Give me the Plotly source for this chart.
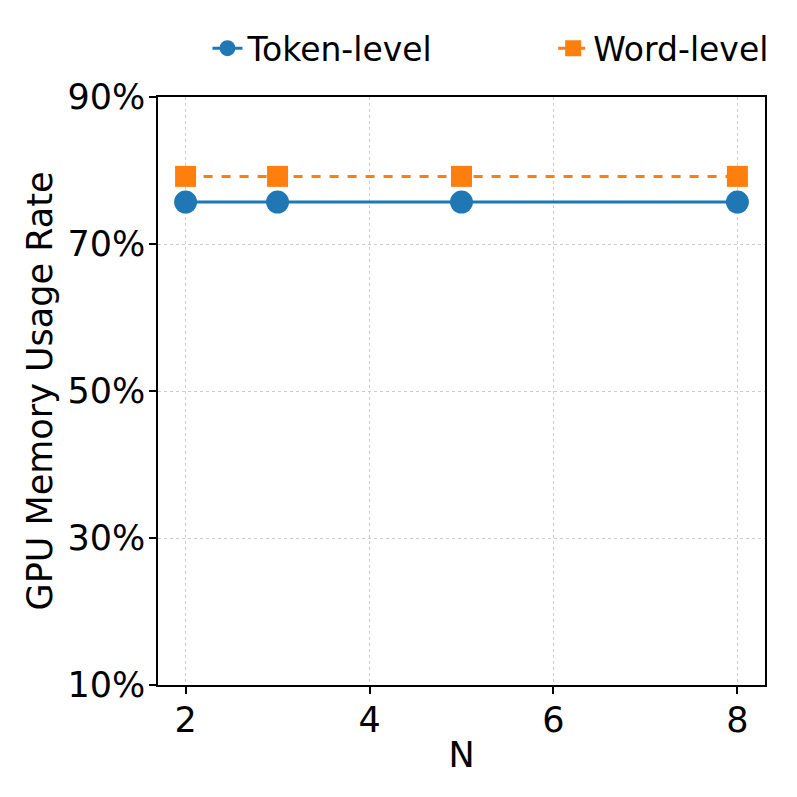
import plotly.graph_objects as go

# data
n_values = [2, 3, 5, 8]
token_level = [75.7, 75.7, 75.7, 75.7]
word_level = [79.2, 79.2, 79.2, 79.2]
y_ticks = [10, 30, 50, 70, 90]
y_tick_labels = ["10%", "30%", "50%", "70%", "90%"]

fig = go.Figure()
fig.add_trace(go.Scatter(
    x=n_values, y=token_level, name="Token-level", mode="lines+markers",
    line=dict(color="#1f77b4", width=3),
    marker=dict(symbol="circle", size=23, color="#1f77b4"),
    legend="legend",
))
fig.add_trace(go.Scatter(
    x=n_values, y=word_level, name="Word-level", mode="lines+markers",
    line=dict(color="#ff7f0e", width=3, dash="dash"),
    marker=dict(symbol="square", size=21, color="#ff7f0e"),
    legend="legend2",
))

axis_style = dict(
    showline=True, linecolor="black", linewidth=1.5, mirror=True,
    ticks="outside", ticklen=7, tickwidth=1.5, tickcolor="black",
    showgrid=True, gridcolor="#cccccc", gridwidth=1, griddash="dot",
    zeroline=False, tickfont=dict(size=35, color="black"),
)

legend_style = dict(
    orientation="h", y=1.083, yanchor="middle", xanchor="left",
    font=dict(size=33), itemsizing="trace", bgcolor="rgba(0,0,0,0)",
)

# page body adds 8px offset, so margins are shifted to compensate
fig.update_layout(
    width=797, height=797,
    margin=dict(l=150, r=40, t=87, b=120),
    paper_bgcolor="white", plot_bgcolor="white",
    font=dict(family="DejaVu Sans", color="black"),
    showlegend=True,
    legend=dict(x=0.0815, **legend_style),
    legend2=dict(x=0.651, **legend_style),
    xaxis=dict(
        range=[1.7, 8.3], tickvals=[2, 4, 6, 8],
        title=dict(text="N", font=dict(size=35), standoff=4),
        ticklabelstandoff=-4,
        **axis_style,
    ),
    yaxis=dict(
        range=[10, 90], tickvals=y_ticks, ticktext=y_tick_labels,
        title=dict(text="GPU Memory Usage Rate", font=dict(size=35), standoff=4),
        ticklabelstandoff=-3,
        **axis_style,
    ),
)

fig.write_html("out.html")
